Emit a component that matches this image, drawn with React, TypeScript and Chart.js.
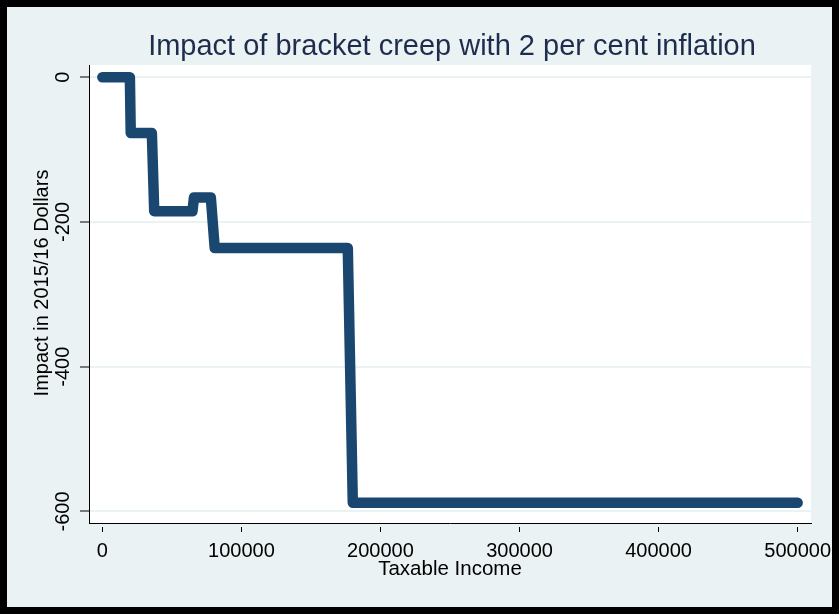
import React, { useEffect, useRef } from "react";
import { Chart, registerables } from "chart.js";

Chart.register(...registerables);

const TITLE = "Impact of bracket creep with 2 per cent inflation";
const X_TITLE = "Taxable Income";
const Y_TITLE = "Impact in 2015/16 Dollars";

const income = [0, 19800, 20400, 35600, 37300, 64800, 65900, 78000, 80800, 176500, 180100, 500000];
const impact = [0, 0, -77, -77, -185, -185, -166, -166, -236, -236, -588, -588];

const xTicks = [0, 100000, 200000, 300000, 400000, 500000];
const xTickLabels = ["0", "100000", "200000", "300000", "400000", "500000"];
const yTicks = [0, -200, -400, -600];
const yTickLabels = ["0", "-200", "-400", "-600"];

const X_MIN = -9600;
const X_MAX = 509600;
const Y_MIN = -616;
const Y_MAX = 17;

const FONT = "'Liberation Sans', Arial, sans-serif";
const LINE_COLOR = "#1a476f";
const BG = "#eaf2f3";

const textPlugin = {
  id: "stataText",
  beforeDraw(chart: any) {
    const { ctx, chartArea } = chart;
    ctx.save();
    ctx.fillStyle = "#ffffff";
    ctx.fillRect(chartArea.left, chartArea.top, chartArea.right - chartArea.left, chartArea.bottom - chartArea.top);
    ctx.restore();
  },
  afterDraw(chart: any) {
    const { ctx, chartArea } = chart;
    const xs = chart.scales.x;
    const ys = chart.scales.y;
    const cx = (chartArea.left + chartArea.right) / 2;
    ctx.save();
    // title
    ctx.fillStyle = "#1e2d4d";
    ctx.font = `29px ${FONT}`;
    ctx.textAlign = "center";
    ctx.textBaseline = "alphabetic";
    ctx.fillText(TITLE, cx + 2, 48);

    // x tick labels
    ctx.fillStyle = "#000";
    ctx.font = `20px ${FONT}`;
    xs.ticks.forEach((t: any, i: number) => {
      const px = xs.getPixelForValue(t.value);
      ctx.fillText(xTickLabels[i], px, 549.7);
    });
    // x title
    ctx.font = `20.5px ${FONT}`;
    ctx.fillText(X_TITLE, cx, 568);

    // y tick labels (rotated)
    ctx.font = `20px ${FONT}`;
    ys.ticks.forEach((t: any, i: number) => {
      const py = ys.getPixelForValue(t.value);
      ctx.save();
      ctx.translate(61.7, py);
      ctx.rotate(-Math.PI / 2);
      ctx.textAlign = "center";
      ctx.fillText(yTickLabels[i], 0, 0);
      ctx.restore();
    });
    // y title
    ctx.save();
    ctx.translate(41, 276);
    ctx.rotate(-Math.PI / 2);
    ctx.textAlign = "center";
    ctx.fillText(Y_TITLE, 0, 0);
    ctx.restore();

    ctx.restore();
  },
};

export default function App() {
  const ref = useRef<HTMLCanvasElement>(null);
  useEffect(() => {
    const data = income.map((x, i) => ({ x, y: impact[i] }));
    const chart = new Chart(ref.current as HTMLCanvasElement, {
      type: "line",
      data: {
        datasets: [
          {
            data,
            borderColor: LINE_COLOR,
            backgroundColor: LINE_COLOR,
            borderWidth: 10.5,
            borderCapStyle: "round",
            borderJoinStyle: "round",
            pointRadius: 0,
            tension: 0,
            fill: false,
            clip: false as any,
          },
        ],
      },
      options: {
        animation: false,
        responsive: false,
        maintainAspectRatio: false,
        layout: { padding: { top: 58, right: 21, left: 0, bottom: 0 } },
        plugins: {
          legend: { display: false },
          title: { display: false },
          tooltip: { enabled: false },
        },
        scales: {
          x: {
            type: "linear",
            min: X_MIN,
            max: X_MAX,
            afterBuildTicks: (s: any) => {
              s.ticks = xTicks.map((v) => ({ value: v }));
            },
            afterFit: (s: any) => {
              s.height = 84;
              s.paddingLeft = 0;
              s.paddingRight = 0;
            },
            ticks: { display: false },
            grid: {
              drawOnChartArea: false,
              drawTicks: true,
              tickLength: 9,
              tickColor: "#000",
              tickWidth: 1,
              tickBorderDash: [0, 3, 6, 50],
            },
            border: { display: true, color: "#000", width: 1 },
          },
          y: {
            type: "linear",
            min: Y_MIN,
            max: Y_MAX,
            afterBuildTicks: (s: any) => {
              s.ticks = yTicks.map((v) => ({ value: v }));
            },
            afterFit: (s: any) => {
              s.width = 82;
              s.paddingTop = 0;
              s.paddingBottom = 0;
            },
            ticks: { display: false },
            grid: {
              drawOnChartArea: true,
              color: BG,
              lineWidth: 2,
              drawTicks: true,
              tickLength: 9,
              tickColor: "#000",
              tickWidth: 1,
            },
            border: { display: true, color: "#000", width: 1 },
          },
        },
      },
      plugins: [textPlugin],
    });
    return () => chart.destroy();
  }, []);
  return (
    <div style={{ position: "fixed", left: 0, top: 0, width: 839, height: 614, background: "#000" }}>
      <canvas
        ref={ref}
        width={825}
        height={600}
        style={{ position: "absolute", left: 7, top: 7, width: 825, height: 600, background: BG }}
      />
    </div>
  );
}
